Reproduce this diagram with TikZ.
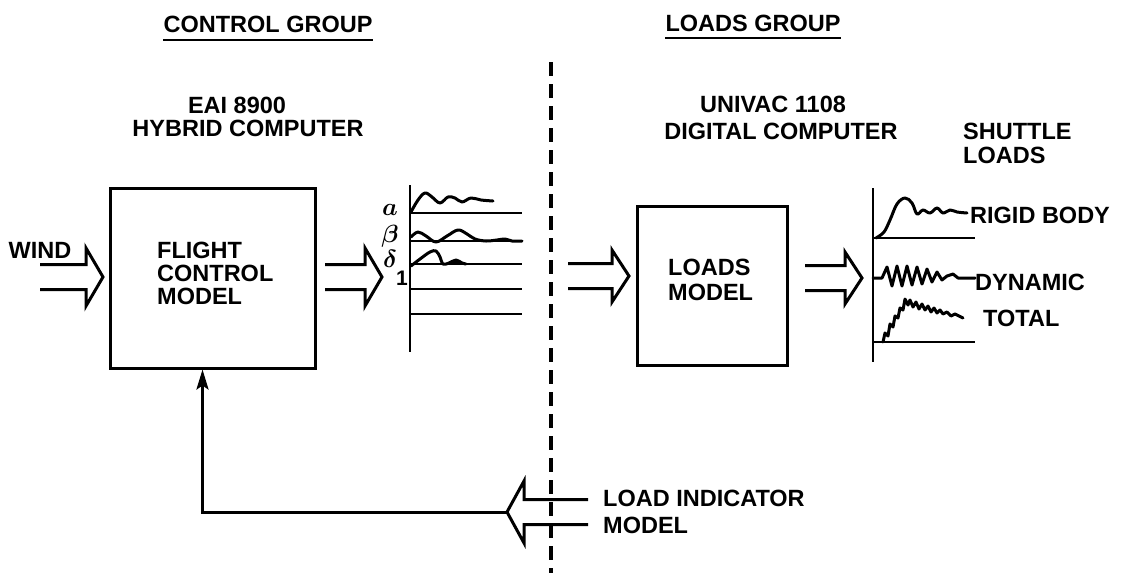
\documentclass[tikz,border=0pt]{standalone}
\usepackage{fontspec}
\setmainfont{Liberation Sans}
\usetikzlibrary{arrows.meta,calc}
\tikzset{
  lbl/.style={font=\fontsize{23.5}{26}\selectfont\bfseries, inner sep=0pt},
  greek/.style={font=\fontsize{23}{23}\selectfont\boldmath, inner sep=0pt},
  blockbox/.style={draw, line width=3pt, inner sep=0pt},
  uline/.style={line width=2.5pt},
  axisline/.style={line width=2.6pt},
  curve/.style={line width=3pt, line join=round, line cap=round},
  hollowline/.style={line width=3pt, line join=miter},
  divider/.style={line width=3.5pt, dash pattern=on 14pt off 8pt},
  fbline/.style={line width=3pt, -{Stealth[length=20pt,width=12pt,inset=4pt]}},
  pics/hollow/.style args={#1/#2}{code={
    \draw[hollowline] (-#1,-12.5) -- (-17,-12.5) -- (-17,-#2) -- (0,0)
      -- (-17,#2) -- (-17,12.5) -- (-#1,12.5);
  }}
}
\begin{document}
\begin{tikzpicture}[x=1pt,y=-1pt]
\useasboundingbox (0,0) rectangle (1132,573);

% group headings
\node[lbl] (cg) at (268,24) {CONTROL GROUP};
\draw[uline] ([yshift=-7.5pt]cg.south west) -- ([yshift=-7.5pt]cg.south east);
\node[lbl] (lg) at (753,23) {LOADS GROUP};
\draw[uline] ([yshift=-6.5pt]lg.south west) -- ([yshift=-6.5pt]lg.south east);

% computer captions
\node[lbl] (eai) at (237,105) {EAI 8900};
\node[lbl] (hyb) at (248,128) {HYBRID COMPUTER};
\node[lbl] (uni) at (773,104) {UNIVAC 1108};
\node[lbl] (dig) at (781,131) {DIGITAL COMPUTER};
\node[lbl, anchor=west] (sh1) at (963,131) {SHUTTLE};
\node[lbl, anchor=west] (sh2) at (963,155) {LOADS};

% dashed divider
\coordinate (dtop) at (551,62);
\coordinate (dbot) at (551,573);
\draw[divider] (dtop) -- (dbot);

% wind input
\node[lbl] (wind) at (40,250) {WIND};
\coordinate (windtip) at (103,277);
\pic at (windtip) {hollow=63/29};

% flight control box
\node[blockbox, minimum width=205pt, minimum height=180pt] (fc) at (212.5,278) {};
\node[lbl, anchor=west] (fc1) at (157,250) {FLIGHT};
\node[lbl, anchor=west] (fc2) at (157,273) {CONTROL};
\node[lbl, anchor=west] (fc3) at (157,296) {MODEL};

% output arrow of flight control
\coordinate (fctip) at (382,277);
\pic at (fctip) {hollow=57/29};

% left strip chart
\coordinate (la1) at (410,185);
\coordinate (la2) at (410,352);
\draw[axisline] (la1) -- (la2);
\foreach \yy in {213,241,264,289,314} \draw[axisline] (410,\yy) -- (522,\yy);
\node[greek] (ga) at (390,210) {$a$};
\node[greek] (gb) at (390,236) {$\beta$};
\node[greek] (gd) at (390,259) {$\delta$};
\node[lbl, font=\fontsize{21}{21}\selectfont\bfseries] (g1) at (402,278) {1};
\draw[curve] plot[smooth, tension=0.6] coordinates {(411,212) (418,200) (425,193) (432,197) (440,203) (448,197) (455,198) (462,202) (471,198) (481,200) (493,201)};
\draw[curve] plot[smooth, tension=0.6] coordinates {(411,237) (418,232) (426,236) (436,242) (447,236) (458,230) (467,234) (475,239) (486,241) (497,240) (505,239) (512,241) (522,241)};
\draw[curve] plot[smooth, tension=0.6] coordinates {(411,266) (420,259) (430,252) (436,251) (440,257) (443,264) (449,263) (456,260) (462,263) (466,264)};
\fill (456,262) ellipse (5pt and 2.5pt);

% loads input arrow
\coordinate (lmtip) at (629,276);
\pic at (lmtip) {hollow=61/26};

% loads model box
\node[blockbox, minimum width=150pt, minimum height=159pt] (lm) at (712,285.5) {};
\node[lbl, anchor=west] (lm1) at (668,267) {LOADS};
\node[lbl, anchor=west] (lm2) at (668,292) {MODEL};

% loads output arrow
\coordinate (lotip) at (862,278);
\pic at (lotip) {hollow=57/26};

% right strip chart
\coordinate (ra1) at (873,188);
\coordinate (ra2) at (873,362);
\draw[axisline] (ra1) -- (ra2);
\draw[axisline] (873,238) -- (975,238);
\draw[axisline] (873,342) -- (975,342);
\draw[curve] plot[smooth, tension=0.6] coordinates {(876,238) (884,232) (890,220) (897,204) (905,198) (912,203) (917,214) (923,210) (930,213) (937,208) (943,213) (950,210) (957,212) (967,213)};
\draw[curve] (873,278) -- (882,278) -- (887,267) -- (892,286) -- (897,266) -- (902,286) -- (907,266) -- (912,285) -- (917,267) -- (922,284) -- (927,269) -- (932,282) -- (937,272) -- (942,280) -- (947,276) -- (953,274) -- (958,278) -- (975,278);
\draw[curve] (883,342) -- (885,333) -- (888,336) -- (890,324) -- (893,327) -- (895,316) -- (898,318) -- (900,308) -- (903,310) -- (905,299) -- (908,305) -- (910,300) -- (913,307) -- (916,302) -- (919,309) -- (922,304) -- (925,310) -- (928,306) -- (931,312) -- (934,308) -- (937,313) -- (940,310) -- (943,314) -- (947,312) -- (951,316) -- (955,314) -- (963,318);
\node[lbl, anchor=west] (rb) at (970,215) {RIGID BODY};
\node[lbl, anchor=west] (dy) at (975,282) {DYNAMIC};
\node[lbl, anchor=west] (to) at (983,318) {TOTAL};

% load indicator feedback
\coordinate (fbtip) at (507,512);
\pic[rotate=180] at (fbtip) {hollow=81/31};
\node[lbl, anchor=west] (li1) at (603,498) {LOAD INDICATOR};
\node[lbl, anchor=west] (li2) at (603,525) {MODEL};
\coordinate (fbin) at ($(fc.south)+(-10,0)$);
\draw[fbline] (fbtip) -| (fbin);
\end{tikzpicture}
\end{document}
